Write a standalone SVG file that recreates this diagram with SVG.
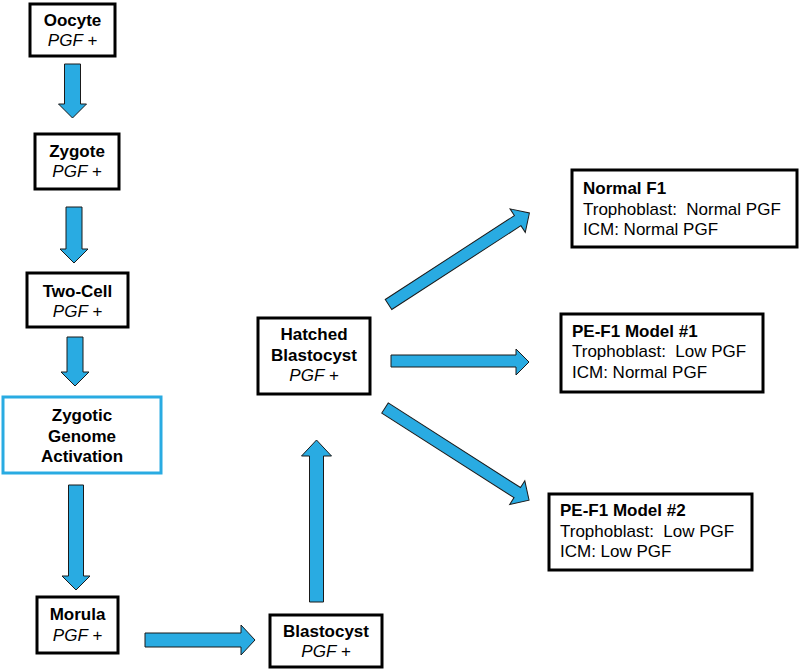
<svg xmlns="http://www.w3.org/2000/svg" width="800" height="672" viewBox="0 0 800 672">
<style>
.box{fill:#fff;stroke:#000;stroke-width:3}
.zga{fill:#fff;stroke:#29ABE2;stroke-width:3}
.arr{fill:#29ABE2;stroke:#1a1a1a;stroke-width:1;stroke-linejoin:miter}
text{font-family:"Liberation Sans",Arial,sans-serif;font-size:17px;fill:#000}
.b{font-weight:bold}
.i{font-style:italic}
.c{text-anchor:middle}
.pre{white-space:pre}
</style>
<rect width="800" height="672" fill="#fff"/>
<g id="connectors">
<polygon class="arr" points="64.5,64 80.5,64 80.5,104 86.5,104 72.5,118 58.5,104 64.5,104"/>
<polygon class="arr" points="66,207 82,207 82,249 88,249 74,263 60,249 66,249"/>
<polygon class="arr" points="67,337 83,337 83,372 89,372 75,386 61,372 67,372"/>
<polygon class="arr" points="68.5,485 83.5,485 83.5,576 90,576 76,590 62,576 68.5,576"/>
<polygon class="arr" points="145,633 241,633 241,625 255,640 241,655 241,647 145,647"/>
<polygon class="arr" points="309.5,602 323.5,602 323.5,456 331.5,456 316.5,440 301.5,456 309.5,456"/>
<polygon class="arr" points="391,355 516,355 516,349 529,362 516,375 516,367 391,367"/>
<polygon class="arr" transform="translate(388.5,304.5) rotate(-33)" points="0,-6 154,-6 154,-14 168,0 154,14 154,6 0,6"/>
<polygon class="arr" transform="translate(385,408) rotate(32.6)" points="0,-6 157,-6 157,-14 171,0 157,14 157,6 0,6"/>
</g>
<g id="oocyte">
<rect class="box" x="30" y="4" width="85" height="52"/>
<text class="b c" x="72.5" y="26">Oocyte</text>
<text class="i c" x="72.5" y="46">PGF +</text>
</g>
<g id="zygote">
<rect class="box" x="35" y="134" width="84" height="55"/>
<text class="b c" x="77" y="157">Zygote</text>
<text class="i c" x="77" y="177">PGF +</text>
</g>
<g id="two-cell">
<rect class="box" x="27" y="273" width="101" height="54"/>
<text class="b c" x="77.5" y="297">Two-Cell</text>
<text class="i c" x="77.5" y="317">PGF +</text>
</g>
<g id="zga">
<rect class="zga" x="3" y="397" width="158" height="76"/>
<text class="b c" x="82" y="421">Zygotic</text>
<text class="b c" x="82" y="442">Genome</text>
<text class="b c" x="82" y="462">Activation</text>
</g>
<g id="morula">
<rect class="box" x="37" y="597" width="81" height="56"/>
<text class="b c" x="77.5" y="620">Morula</text>
<text class="i c" x="77.5" y="641">PGF +</text>
</g>
<g id="blastocyst">
<rect class="box" x="270" y="615" width="112" height="52"/>
<text class="b c" x="326" y="637">Blastocyst</text>
<text class="i c" x="326" y="657">PGF +</text>
</g>
<g id="hatched">
<rect class="box" x="258" y="318" width="112" height="76"/>
<text class="b c" x="314" y="340">Hatched</text>
<text class="b c" x="314" y="361">Blastocyst</text>
<text class="i c" x="314" y="381">PGF +</text>
</g>
<g id="normal-f1">
<rect class="box" x="572" y="170" width="225" height="77"/>
<text class="b" x="583" y="194">Normal F1</text>
<text class="pre" x="583" y="215">Trophoblast:  Normal PGF</text>
<text x="583" y="235">ICM: Normal PGF</text>
</g>
<g id="pe-f1-model-1">
<rect class="box" x="561" y="314" width="202" height="78"/>
<text class="b" x="572" y="337">PE-F1 Model #1</text>
<text class="pre" x="572" y="357">Trophoblast:  Low PGF</text>
<text x="572" y="378">ICM: Normal PGF</text>
</g>
<g id="pe-f1-model-2">
<rect class="box" x="549" y="494" width="203" height="76"/>
<text class="b" x="560" y="516">PE-F1 Model #2</text>
<text class="pre" x="560" y="537">Trophoblast:  Low PGF</text>
<text x="560" y="557">ICM: Low PGF</text>
</g>
</svg>
